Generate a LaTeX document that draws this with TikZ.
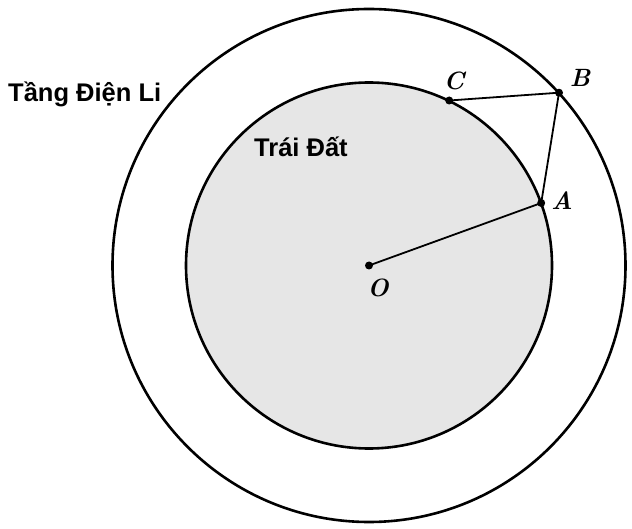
\documentclass[tikz,border=0pt]{standalone}
\usepackage{fontspec}
\newfontfamily\sansb{Liberation Sans}
\definecolor{earth}{RGB}{230,230,230}
\begin{document}
\begin{tikzpicture}[x=1pt,y=-1pt,
  ring/.style={line width=2.6pt},
  seg/.style={line width=1.8pt},
  pt/.style={circle,fill=black,inner sep=0pt,minimum size=8pt},
  lab/.style={font=\fontsize{20}{20}\selectfont\bfseries\itshape,inner sep=0pt,scale=1.25},
  title/.style={font=\sansb\bfseries\fontsize{25.5}{25.5}\selectfont,inner sep=0pt,anchor=base west}]
\useasboundingbox (0,0) rectangle (632,529);
\coordinate (c) at (369,265.5);
\draw[ring] (c) circle[radius=256.5pt];
\draw[ring,fill=earth] (c) circle[radius=183pt];
\node[pt] (O) at (369,265.5) {};
\node[pt] (A) at (541.2,203) {};
\node[pt] (B) at (559,92.7) {};
\node[pt] (C) at (449.2,100.5) {};
\draw[seg] (O.center) -- (A.center) -- (B.center) -- (C.center);
\node[lab] (lO) at (378,288) {O};
\node[lab] (lA) at (562,200.5) {A};
\node[lab] (lB) at (580,77.5) {B};
\node[lab] (lC) at (454,80.5) {C};
\node[title] (t1) at (8,102) {Tầng Điện Li};
\node[title] (t2) at (254,157) {Trái Đất};
\end{tikzpicture}
\end{document}
